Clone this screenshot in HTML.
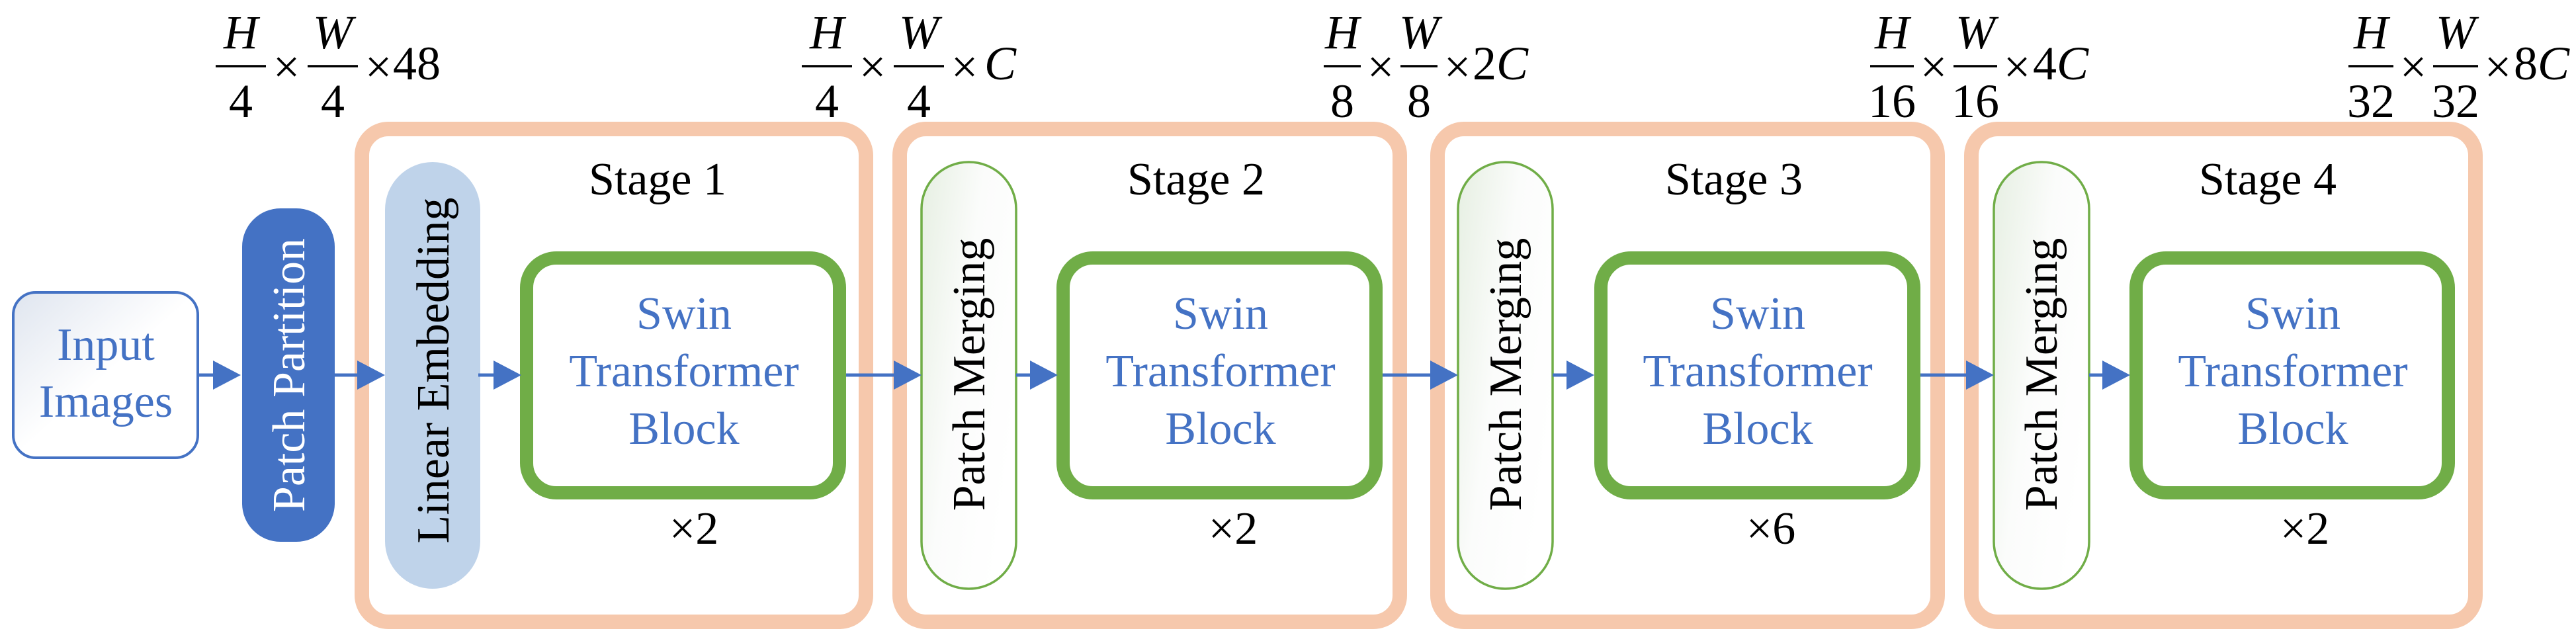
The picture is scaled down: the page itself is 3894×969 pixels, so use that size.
<!DOCTYPE html>
<html><head><meta charset="utf-8"><style>
html,body{margin:0;padding:0;background:#fff;}
svg{display:block;}
svg text{font-family:"Liberation Serif",serif !important;}
</style></head><body>
<svg width="3894" height="969" viewBox="0 0 3894 969" xmlns="http://www.w3.org/2000/svg" font-family="Liberation Serif, serif">
<defs>
<linearGradient id="gi" x1="0" y1="0" x2="1" y2="1">
<stop offset="0" stop-color="#dfe5ef"/><stop offset="0.5" stop-color="#ffffff"/><stop offset="1" stop-color="#ffffff"/>
</linearGradient>
<linearGradient id="gp" x1="0" y1="0" x2="1" y2="0.6">
<stop offset="0" stop-color="#e6efe2"/><stop offset="0.5" stop-color="#fbfcfb"/><stop offset="1" stop-color="#ffffff"/>
</linearGradient>
<g id="arrowhead"><polygon points="0,-22 42,0 0,22" fill="#4472C4"/></g>
</defs>

<!-- Input -->
<rect x="20" y="442" width="279" height="250" rx="34" fill="url(#gi)" stroke="#4472C4" stroke-width="4"/>
<g font-family="Liberation Serif, serif" font-size="70" fill="#4472C4" text-anchor="middle">
<text x="160" y="544" font-family="Liberation Serif, serif">Input</text>
<text x="160" y="630" font-family="Liberation Serif, serif">Images</text>
</g>

<!-- Patch Partition -->
<rect x="366" y="315" width="140" height="504" rx="58" fill="#4472C4"/>
<text transform="translate(460,567) rotate(-90)" font-family="Liberation Serif, serif" font-size="70" fill="#fff" text-anchor="middle">Patch Partition</text>

<!-- Stage boxes -->
<rect x="547" y="195" width="762" height="745" rx="40" fill="none" stroke="#F6C8AC" stroke-width="22"/>
<rect x="1360" y="195" width="756" height="745" rx="40" fill="none" stroke="#F6C8AC" stroke-width="22"/>
<rect x="2173" y="195" width="756" height="745" rx="40" fill="none" stroke="#F6C8AC" stroke-width="22"/>
<rect x="2980" y="195" width="762" height="745" rx="40" fill="none" stroke="#F6C8AC" stroke-width="22"/>

<!-- Linear Embedding -->
<rect x="582" y="245" width="144" height="645" rx="72" fill="#BFD3EA"/>
<text transform="translate(678,560) rotate(-90)" font-family="Liberation Serif, serif" font-size="70" fill="#000" text-anchor="middle">Linear Embedding</text>

<!-- Patch Merging -->
<rect x="1393" y="245" width="143" height="645" rx="71" fill="url(#gp)" stroke="#70AD47" stroke-width="3.5"/>
<text transform="translate(1488,566) rotate(-90)" font-family="Liberation Serif, serif" font-size="70" fill="#000" text-anchor="middle">Patch Merging</text>
<rect x="2204" y="245" width="143" height="645" rx="71" fill="url(#gp)" stroke="#70AD47" stroke-width="3.5"/>
<text transform="translate(2299,566) rotate(-90)" font-family="Liberation Serif, serif" font-size="70" fill="#000" text-anchor="middle">Patch Merging</text>
<rect x="3014" y="245" width="144" height="645" rx="71" fill="url(#gp)" stroke="#70AD47" stroke-width="3.5"/>
<text transform="translate(3109,566) rotate(-90)" font-family="Liberation Serif, serif" font-size="70" fill="#000" text-anchor="middle">Patch Merging</text>

<!-- Green blocks -->
<g fill="none" stroke="#70AD47" stroke-width="20">
<rect x="796" y="390" width="473" height="355" rx="45"/>
<rect x="1607" y="390" width="473" height="355" rx="45"/>
<rect x="2420" y="390" width="473" height="355" rx="45"/>
<rect x="3229" y="390" width="472" height="355" rx="45"/>
</g>
<g font-family="Liberation Serif, serif" font-size="70" fill="#4472C4" text-anchor="middle">
<text x="1034" y="497">Swin</text><text x="1034" y="584">Transformer</text><text x="1034" y="671">Block</text>
<text x="1845" y="497">Swin</text><text x="1845" y="584">Transformer</text><text x="1845" y="671">Block</text>
<text x="2657" y="497">Swin</text><text x="2657" y="584">Transformer</text><text x="2657" y="671">Block</text>
<text x="3466" y="497">Swin</text><text x="3466" y="584">Transformer</text><text x="3466" y="671">Block</text>
</g>

<!-- Stage labels and multipliers -->
<g font-family="Liberation Serif, serif" font-size="70" fill="#000" text-anchor="middle">
<text x="994" y="294">Stage 1</text>
<text x="1808" y="294">Stage 2</text>
<text x="2621" y="294">Stage 3</text>
<text x="3428" y="294">Stage 4</text>
<text x="1049" y="822">×2</text>
<text x="1864" y="822">×2</text>
<text x="2677" y="822">×6</text>
<text x="3484" y="822">×2</text>
</g>

<!-- Arrows -->
<g stroke="#4472C4" stroke-width="5">
<line x1="299" y1="567" x2="330" y2="567"/>
<line x1="506" y1="567" x2="545" y2="567"/>
<line x1="723" y1="567" x2="750" y2="567"/>
<line x1="1279" y1="567" x2="1355" y2="567"/>
<line x1="1536" y1="567" x2="1562" y2="567"/>
<line x1="2090" y1="567" x2="2166" y2="567"/>
<line x1="2347" y1="567" x2="2375" y2="567"/>
<line x1="2903" y1="567" x2="2975" y2="567"/>
<line x1="3158" y1="567" x2="3185" y2="567"/>
</g>
<use href="#arrowhead" x="322" y="567"/>
<use href="#arrowhead" x="540" y="567"/>
<use href="#arrowhead" x="746" y="567"/>
<use href="#arrowhead" x="1351" y="567"/>
<use href="#arrowhead" x="1557" y="567"/>
<use href="#arrowhead" x="2162" y="567"/>
<use href="#arrowhead" x="2368" y="567"/>
<use href="#arrowhead" x="2972" y="567"/>
<use href="#arrowhead" x="3178" y="567"/>

<!-- Fractions -->
<g font-family="Liberation Serif, serif" font-size="72" fill="#000">
<g transform="translate(326,0)">
<line x1="0" y1="100" x2="76" y2="100" stroke="#000" stroke-width="3.5"/>
<text x="38" y="73" text-anchor="middle" font-style="italic">H</text>
<text x="38" y="177" text-anchor="middle">4</text>
<text x="107" y="125" text-anchor="middle">×</text>
<line x1="139" y1="100" x2="215" y2="100" stroke="#000" stroke-width="3.5"/>
<text x="177" y="73" text-anchor="middle" font-style="italic">W</text>
<text x="177" y="177" text-anchor="middle">4</text>
<text x="246" y="125" text-anchor="middle">×</text>
<text x="268" y="120">48</text>
</g>
<g transform="translate(1212,0)">
<line x1="0" y1="100" x2="76" y2="100" stroke="#000" stroke-width="3.5"/>
<text x="38" y="73" text-anchor="middle" font-style="italic">H</text>
<text x="38" y="177" text-anchor="middle">4</text>
<text x="107" y="125" text-anchor="middle">×</text>
<line x1="139" y1="100" x2="215" y2="100" stroke="#000" stroke-width="3.5"/>
<text x="177" y="73" text-anchor="middle" font-style="italic">W</text>
<text x="177" y="177" text-anchor="middle">4</text>
<text x="246" y="125" text-anchor="middle">×</text>
<text x="276" y="120" font-style="italic">C</text>
</g>
<g transform="translate(2001,0)">
<line x1="0" y1="100" x2="56" y2="100" stroke="#000" stroke-width="3.5"/>
<text x="28" y="73" text-anchor="middle" font-style="italic">H</text>
<text x="28" y="177" text-anchor="middle">8</text>
<text x="86" y="125" text-anchor="middle">×</text>
<line x1="116" y1="100" x2="172" y2="100" stroke="#000" stroke-width="3.5"/>
<text x="144" y="73" text-anchor="middle" font-style="italic">W</text>
<text x="144" y="177" text-anchor="middle">8</text>
<text x="202" y="125" text-anchor="middle">×</text>
<text x="225" y="120">2<tspan font-style="italic">C</tspan></text>
</g>
<g transform="translate(2827,0)">
<line x1="0" y1="100" x2="66" y2="100" stroke="#000" stroke-width="3.5"/>
<text x="33" y="73" text-anchor="middle" font-style="italic">H</text>
<text x="33" y="177" text-anchor="middle">16</text>
<text x="96" y="125" text-anchor="middle">×</text>
<line x1="126" y1="100" x2="192" y2="100" stroke="#000" stroke-width="3.5"/>
<text x="159" y="73" text-anchor="middle" font-style="italic">W</text>
<text x="159" y="177" text-anchor="middle">16</text>
<text x="222" y="125" text-anchor="middle">×</text>
<text x="246" y="120">4<tspan font-style="italic">C</tspan></text>
</g>
<g transform="translate(3550,0)">
<line x1="0" y1="100" x2="68" y2="100" stroke="#000" stroke-width="3.5"/>
<text x="34" y="73" text-anchor="middle" font-style="italic">H</text>
<text x="34" y="177" text-anchor="middle">32</text>
<text x="98" y="125" text-anchor="middle">×</text>
<line x1="128" y1="100" x2="196" y2="100" stroke="#000" stroke-width="3.5"/>
<text x="162" y="73" text-anchor="middle" font-style="italic">W</text>
<text x="162" y="177" text-anchor="middle">32</text>
<text x="226" y="125" text-anchor="middle">×</text>
<text x="250" y="120">8<tspan font-style="italic">C</tspan></text>
</g>
</g>
</svg>
</body></html>
